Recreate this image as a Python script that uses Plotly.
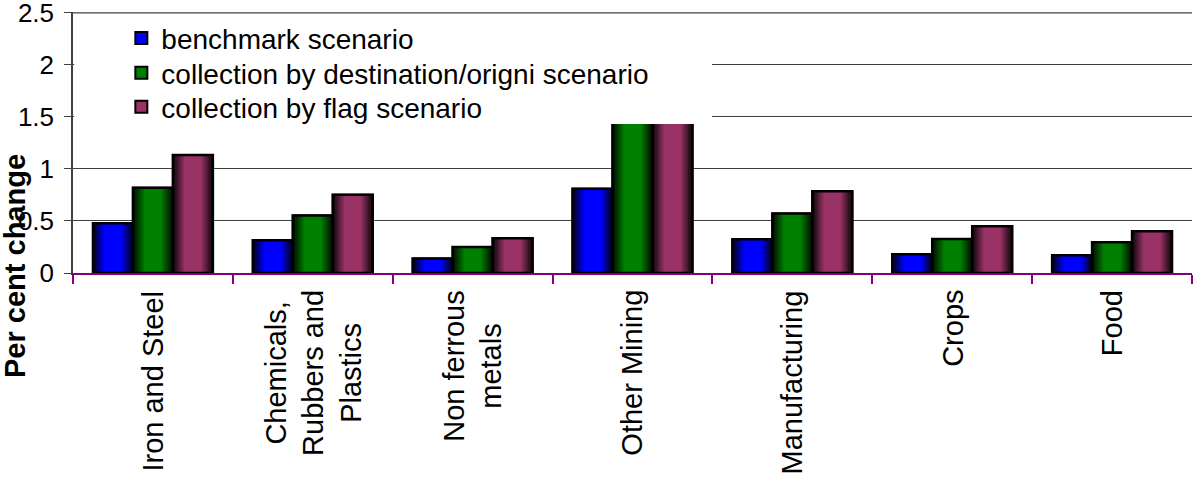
import plotly.graph_objects as go

# ---------------- data ----------------
categories = ["Iron and Steel", "Chemicals,<br>Rubbers and<br>Plastics", "Non ferrous<br>metals",
              "Other Mining", "Manufacturing", "Crops", "Food"]
benchmark = [0.477, 0.315, 0.14, 0.81, 0.324, 0.18, 0.17]
dest_origin = [0.82, 0.553, 0.25, 1.46, 0.572, 0.327, 0.295]
flag = [1.135, 0.753, 0.335, 1.95, 0.785, 0.45, 0.40]
series_names = ["benchmark scenario", "collection by destination/origni scenario",
                "collection by flag scenario"]
y_ticks = [0, 0.5, 1, 1.5, 2, 2.5]
y_tick_text = ["0", "0.5", "1", "1.5", "2", "2.5"]

# ---------------- style ----------------
base_colors = [(0, 0, 255), (0, 128, 0), (153, 51, 102)]
BAR_W = 0.25
offsets = [-0.375, -0.125, 0.125]
K = 18
FONT = "Liberation Sans, Arial, sans-serif"
legend_ids = ["legend", "legend2", "legend3"]
legend_y = [0.899, 0.766, 0.636]
Y_MAX = 2.508
GRID = "#404040"


def shade(t):
    pts = [(0.0, 0.08), (0.12, 0.45), (0.3, 1.0), (0.7, 1.0), (0.88, 0.45), (1.0, 0.08)]
    for (t0, v0), (t1, v1) in zip(pts[:-1], pts[1:]):
        if t0 <= t <= t1:
            return v0 + (v1 - v0) * (t - t0) / (t1 - t0)
    return 1.0


fig = go.Figure()
all_series = [benchmark, dest_origin, flag]
for s, vals in enumerate(all_series):
    r, g, b = base_colors[s]
    fig.add_trace(go.Bar(x=categories, y=vals, name=series_names[s], offset=offsets[s], width=BAR_W,
                         marker=dict(color=f"rgb({r},{g},{b})", line=dict(color="black", width=2)),
                         showlegend=True, legend=legend_ids[s], hoverinfo="skip"))
    sw = BAR_W / K
    for i in range(K):
        f = shade((i + 0.5) / K)
        col = f"rgb({int(r*f)},{int(g*f)},{int(b*f)})"
        fig.add_trace(go.Bar(x=categories, y=vals, offset=offsets[s] + i * sw, width=BAR_W - i * sw,
                             marker=dict(color=col, line=dict(width=0)),
                             showlegend=False, hoverinfo="skip"))
    fig.add_trace(go.Bar(x=categories, y=vals, offset=offsets[s], width=BAR_W,
                         marker=dict(color="rgba(0,0,0,0)", line=dict(color="black", width=2.5)),
                         showlegend=False, hoverinfo="skip"))

# white legend box covering part of the plot area (as in the original chart)
fig.add_shape(type="rect", xref="paper", yref="y", x0=0.001, x1=0.571, y0=1.432, y1=2.47,
              fillcolor="white", line=dict(width=0), layer="above")
# top gridline at the last tick value
fig.add_shape(type="line", xref="paper", yref="y", x0=0, x1=1, y0=y_ticks[-1], y1=y_ticks[-1],
              line=dict(color=GRID, width=1.2), layer="above")

annotations = [dict(text="<b>Per cent change</b>", xref="paper", yref="paper", x=-0.0518, y=0.027,
                    xanchor="center", yanchor="middle", textangle=-90, showarrow=False,
                    font=dict(size=29, family=FONT, color="black"))]
for i, cat in enumerate(categories):
    annotations.append(dict(text=cat, xref="x", yref="paper", x=i, y=-0.058, xanchor="center",
                            yanchor="top", textangle=-90, showarrow=False, align="center",
                            font=dict(size=29, family=FONT, color="black")))

legends = {}
for s, lid in enumerate(legend_ids):
    legends[lid] = dict(x=0.0432, y=legend_y[s], xanchor="left", yanchor="middle",
                        bgcolor="rgba(0,0,0,0)", font=dict(size=28, family=FONT, color="black"),
                        borderwidth=0)

fig.update_layout(
    width=1193, height=485, autosize=False,
    margin=dict(l=73, r=1, t=12, b=212, autoexpand=False),
    paper_bgcolor="white", plot_bgcolor="white",
    barmode="overlay",
    font=dict(family=FONT, color="black", size=27),
    xaxis=dict(type="category", range=[-0.5, 6.5], showline=True, linecolor="#800080", linewidth=1.5,
               ticks="outside", tickson="boundaries", ticklen=9, tickcolor="#800080", tickwidth=1.5,
               showticklabels=False, showgrid=False, automargin=False),
    yaxis=dict(range=[0, Y_MAX], tickvals=y_ticks, ticktext=y_tick_text, showgrid=True,
               gridcolor=GRID, gridwidth=1.2, zeroline=False, showline=True, linecolor=GRID,
               linewidth=1.5, ticks="outside", ticklen=7, tickcolor=GRID, tickfont=dict(size=26),
               ticklabelstandoff=5, ticklabeloverflow="allow", automargin=False),
    annotations=annotations,
    **legends,
)

fig.write_html("out.html")
